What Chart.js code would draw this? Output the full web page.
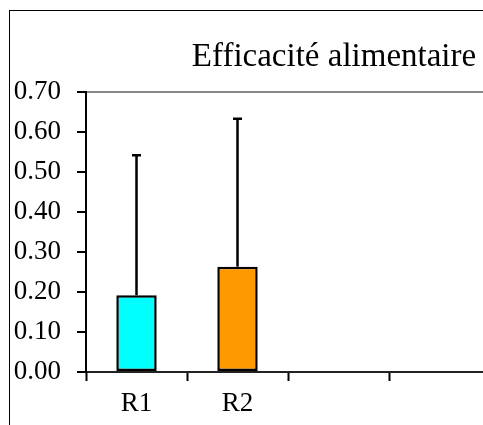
<!DOCTYPE html>
<html>
<head>
<meta charset="utf-8">
<script src="https://cdn.jsdelivr.net/npm/chart.js@4/dist/chart.umd.min.js"></script>
<style>
  html, body { margin: 0; padding: 0; background: #fff; overflow: hidden; }
  #wrap { position: absolute; left: 0; top: 0; width: 659px; height: 440px; }
</style>
</head>
<body>
<div id="wrap"><canvas id="chart" width="659" height="440"></canvas></div>
<script>
// data
const categories = ["R1", "R2", "", "", ""];
const means = [0.192, 0.263, null, null, null];
const errors = [0.35, 0.37, null, null, null];
const barColors = ["#00FFFF", "#FF9900", "#fff", "#fff", "#fff"];
const yTicks = [0, 0.1, 0.2, 0.3, 0.4, 0.5, 0.6, 0.7];

const serif = "'Liberation Serif', 'Times New Roman', serif";

// outer frame of the chart object
const framePlugin = {
  id: "frame",
  beforeDraw(chart) {
    const ctx = chart.ctx;
    ctx.save();
    ctx.fillStyle = "#fff";
    ctx.fillRect(0, 0, chart.width, chart.height);
    ctx.strokeStyle = "#000";
    ctx.lineWidth = 1;
    ctx.strokeRect(9.5, 10.5, chart.width + 20, chart.height + 20);
    ctx.restore();
  }
};

// positive-only error bars with a cap on top
const errorBarPlugin = {
  id: "errorBars",
  afterDatasetsDraw(chart) {
    const ctx = chart.ctx;
    const meta = chart.getDatasetMeta(0);
    const yScale = chart.scales.y;
    ctx.save();
    ctx.strokeStyle = "#000";
    ctx.lineWidth = 2.5;
    meta.data.forEach((bar, i) => {
      if (means[i] == null || errors[i] == null) return;
      const yBase = yScale.getPixelForValue(means[i]);
      const yTop = yScale.getPixelForValue(means[i] + errors[i]);
      ctx.beginPath();
      ctx.moveTo(bar.x, yBase);
      ctx.lineTo(bar.x, yTop);
      ctx.moveTo(bar.x - 4.5, yTop);
      ctx.lineTo(bar.x + 4.5, yTop);
      ctx.stroke();
    });
    ctx.restore();
  }
};

new Chart(document.getElementById("chart"), {
  type: "bar",
  data: {
    labels: categories,
    datasets: [{
      data: means,
      backgroundColor: barColors,
      borderColor: "#000",
      borderWidth: 2.5,
      borderSkipped: false,
      categoryPercentage: 1,
      barPercentage: 0.4
    }]
  },
  options: {
    responsive: false,
    animation: false,
    devicePixelRatio: 1,
    layout: { padding: { left: 9, top: 10, right: 0, bottom: 0 } },
    plugins: {
      legend: { display: false },
      tooltip: { enabled: false },
      title: {
        display: true,
        text: "Efficacité alimentaire",
        color: "#000",
        font: { family: serif, size: 33, weight: "normal" },
        padding: { top: 28, bottom: 14.4 }
      }
    },
    scales: {
      x: {
        grid: {
          offset: true,
          drawOnChartArea: false,
          tickLength: 9,
          tickColor: "#000",
          tickWidth: 2
        },
        border: { color: "#222", width: 2 },
        ticks: {
          color: "#000",
          font: { family: serif, size: 27 },
          padding: 7,
          maxRotation: 0
        },
        afterFit(scale) { scale.height = 68; }
      },
      y: {
        min: 0,
        max: 0.7,
        afterBuildTicks(scale) { scale.ticks = yTicks.map(v => ({ value: v })); },
        grid: {
          color: c => (c.tick && Math.abs(c.tick.value - 0.7) < 1e-9) ? "#888" : "rgba(0,0,0,0)",
          lineWidth: 2,
          tickLength: 9,
          tickColor: "#000",
          tickWidth: 2
        },
        border: { color: "#000", width: 2 },
        ticks: {
          color: "#000",
          font: { family: serif, size: 27 },
          padding: 16,
          callback: v => Number(v).toFixed(2)
        },
        afterFit(scale) { scale.width = 77; }
      },
      y2: {
        position: "right",
        display: true,
        grid: { display: false },
        border: { display: false },
        ticks: { display: false },
        afterFit(scale) { scale.width = 68; }
      }
    }
  },
  plugins: [framePlugin, errorBarPlugin]
});
</script>
</body>
</html>
